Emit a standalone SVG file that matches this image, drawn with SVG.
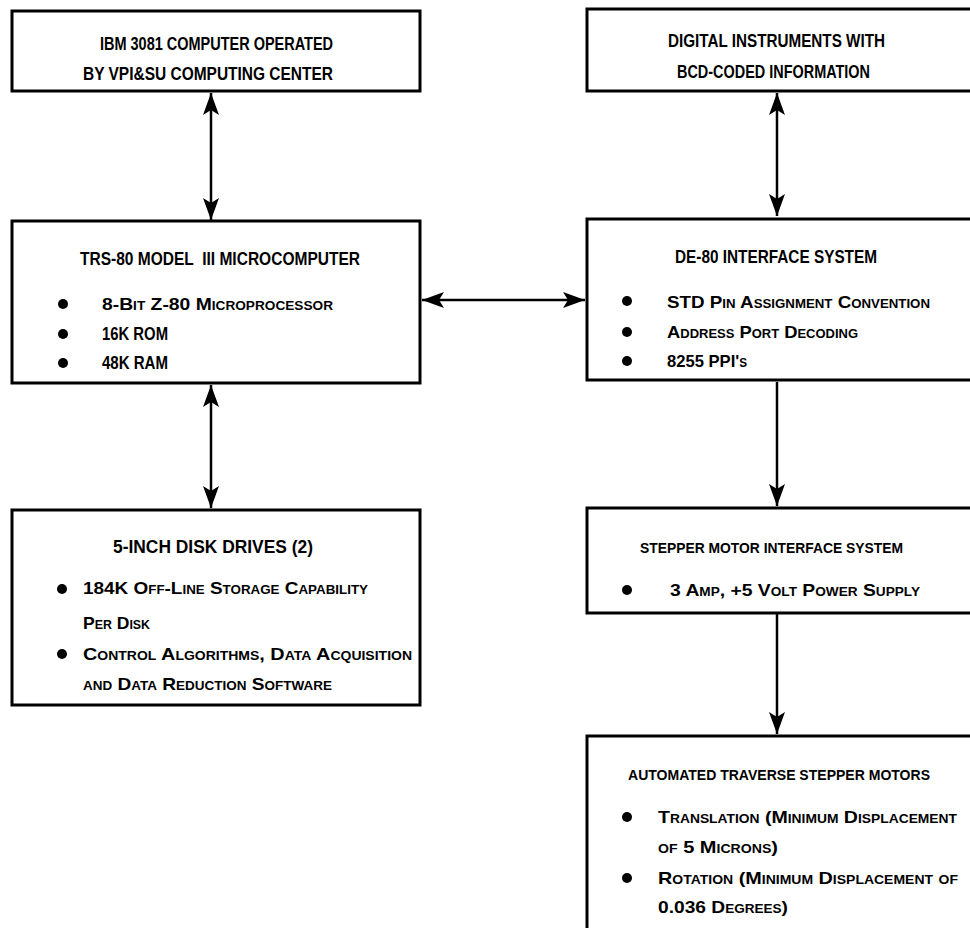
<svg xmlns="http://www.w3.org/2000/svg" width="970" height="928" viewBox="0 0 970 928">
<defs>
<style>
.box{fill:#fff;stroke:#000;stroke-width:3}
.t{font-family:"Liberation Sans","DejaVu Sans",sans-serif;font-weight:bold;font-size:18px;fill:#000}
.sm{font-size:15.5px}
.sc{font-variant:small-caps;font-size:17px}
.line{stroke:#000;stroke-width:2.5;fill:none}
.dot{fill:#000}
</style>
<marker id="ah" viewBox="0 0 22 16" refX="22" refY="8" markerWidth="22" markerHeight="16" markerUnits="userSpaceOnUse" orient="auto-start-reverse">
<path d="M0,0 L22,8 L0,16 L5,8 z" fill="#000"/>
</marker>
</defs>
<rect width="970" height="928" fill="#fff"/>

<g id="connectors">
<line class="line" x1="211" y1="93" x2="211" y2="220" marker-start="url(#ah)" marker-end="url(#ah)"/>
<line class="line" x1="211" y1="385" x2="211" y2="508" marker-start="url(#ah)" marker-end="url(#ah)"/>
<line class="line" x1="422" y1="300" x2="585" y2="300" marker-start="url(#ah)" marker-end="url(#ah)"/>
<line class="line" x1="777" y1="93" x2="777" y2="216" marker-start="url(#ah)" marker-end="url(#ah)"/>
<line class="line" x1="777" y1="382" x2="777" y2="506" marker-end="url(#ah)"/>
<line class="line" x1="777" y1="614" x2="777" y2="734" marker-end="url(#ah)"/>
</g>

<g id="ibm">
<rect class="box" x="12" y="11" width="408" height="80"/>
<text class="t" x="100" y="50" textLength="233" lengthAdjust="spacingAndGlyphs">IBM 3081 COMPUTER OPERATED</text>
<text class="t" x="83" y="80" textLength="250" lengthAdjust="spacingAndGlyphs">BY VPI&amp;SU COMPUTING CENTER</text>
</g>

<g id="digital">
<path class="box" d="M970,9 H587 V91 H970"/>
<text class="t" x="668" y="47" textLength="217" lengthAdjust="spacingAndGlyphs">DIGITAL INSTRUMENTS WITH</text>
<text class="t" x="677" y="78" textLength="193" lengthAdjust="spacingAndGlyphs">BCD-CODED INFORMATION</text>
</g>

<g id="trs80">
<rect class="box" x="12" y="221" width="408" height="162"/>
<text class="t" x="80" y="265" textLength="280" lengthAdjust="spacingAndGlyphs" xml:space="preserve">TRS-80 MODEL  III MICROCOMPUTER</text>
<circle class="dot" cx="63" cy="304" r="5"/>
<text class="t sc" x="102" y="310" textLength="231" lengthAdjust="spacingAndGlyphs">8-Bit Z-80 Microprocessor</text>
<circle class="dot" cx="63" cy="334" r="5"/>
<text class="t" x="102" y="340" textLength="66" lengthAdjust="spacingAndGlyphs">16K ROM</text>
<circle class="dot" cx="63" cy="363" r="5"/>
<text class="t" x="102" y="369" textLength="66" lengthAdjust="spacingAndGlyphs">48K RAM</text>
</g>

<g id="de80">
<path class="box" d="M970,219 H587 V380 H970"/>
<text class="t" x="675" y="263" textLength="202" lengthAdjust="spacingAndGlyphs">DE-80 INTERFACE SYSTEM</text>
<circle class="dot" cx="627" cy="301" r="5"/>
<text class="t sc" x="667" y="308" textLength="263" lengthAdjust="spacingAndGlyphs">STD Pin Assignment Convention</text>
<circle class="dot" cx="627" cy="332" r="5"/>
<text class="t sc" x="667" y="338" textLength="191" lengthAdjust="spacingAndGlyphs">Address Port Decoding</text>
<circle class="dot" cx="627" cy="361" r="5"/>
<text class="t sc" x="667" y="367" textLength="80" lengthAdjust="spacingAndGlyphs">8255 PPI's</text>
</g>

<g id="disk">
<rect class="box" x="12" y="510" width="408" height="195"/>
<text class="t" x="113" y="553" textLength="200" lengthAdjust="spacingAndGlyphs">5-INCH DISK DRIVES (2)</text>
<circle class="dot" cx="62" cy="589" r="5"/>
<text class="t sc" x="83" y="594" textLength="285" lengthAdjust="spacingAndGlyphs">184K Off-Line Storage Capability</text>
<text class="t sc" x="83" y="629" textLength="67" lengthAdjust="spacingAndGlyphs">Per Disk</text>
<circle class="dot" cx="62" cy="654" r="5"/>
<text class="t sc" x="83" y="660" textLength="329" lengthAdjust="spacingAndGlyphs">Control Algorithms, Data Acquisition</text>
<text class="t sc" x="83" y="690" textLength="249" lengthAdjust="spacingAndGlyphs">and Data Reduction Software</text>
</g>

<g id="stepper">
<path class="box" d="M970,508 H587 V613 H970"/>
<text class="t sm" x="640" y="553" textLength="263" lengthAdjust="spacingAndGlyphs">STEPPER MOTOR INTERFACE SYSTEM</text>
<circle class="dot" cx="627" cy="590" r="5"/>
<text class="t sc" x="670" y="596" textLength="250" lengthAdjust="spacingAndGlyphs">3 Amp, +5 Volt Power Supply</text>
</g>

<g id="motors">
<path class="box" d="M970,736 H587 V928"/>
<text class="t sm" x="628" y="780" textLength="302" lengthAdjust="spacingAndGlyphs">AUTOMATED TRAVERSE STEPPER MOTORS</text>
<circle class="dot" cx="627" cy="817" r="5"/>
<text class="t sc" x="658" y="823" textLength="299" lengthAdjust="spacingAndGlyphs">Translation (Minimum Displacement</text>
<text class="t sc" x="658" y="853" textLength="120" lengthAdjust="spacingAndGlyphs">of 5 Microns)</text>
<circle class="dot" cx="627" cy="878" r="5"/>
<text class="t sc" x="658" y="884" textLength="300" lengthAdjust="spacingAndGlyphs">Rotation (Minimum Displacement of</text>
<text class="t sc" x="658" y="913" textLength="130" lengthAdjust="spacingAndGlyphs">0.036 Degrees)</text>
</g>
</svg>
